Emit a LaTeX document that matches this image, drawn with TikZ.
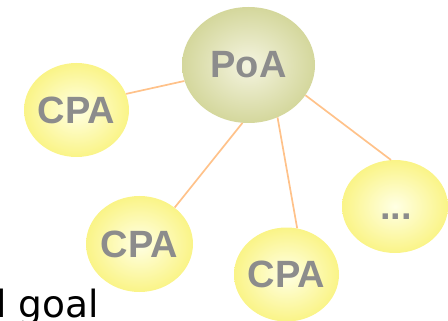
\documentclass[tikz,border=0pt]{standalone}
\usepackage{fontspec}
\setmainfont{Liberation Sans}
\newfontfamily\bodyfont{DejaVu Sans}
\usetikzlibrary{shapes.geometric}
\definecolor{cpaout}{RGB}{250,244,135}
\definecolor{cpain}{RGB}{255,255,228}
\definecolor{poaout}{RGB}{212,215,156}
\definecolor{poain}{RGB}{244,244,224}
\definecolor{linkcol}{RGB}{255,194,138}
\definecolor{labgray}{RGB}{140,140,140}
\tikzset{
  bubble/.style={ellipse, inner sep=-8pt, font=\fontsize{38}{38}\selectfont\bfseries,
    text=labgray},
  cpabubble/.style={bubble, inner color=cpain, outer color=cpaout,
    minimum width=105pt, minimum height=94pt},
  poabubble/.style={bubble, inner color=poain, outer color=poaout,
    minimum width=133pt, minimum height=116pt},
  link/.style={draw=linkcol, line width=1.7pt},
}
\begin{document}
\begin{tikzpicture}[x=1pt,y=-1pt]
\useasboundingbox (0,0) rectangle (448,321);
\node[poabubble] (poa) at (248.5,65) {PoA};
\node[cpabubble] (cpa1) at (76.5,110) {CPA};
\node[cpabubble, minimum width=107pt, minimum height=96pt] (cpa2) at (139.5,244) {CPA};
\node[cpabubble] (cpa3) at (286.5,274.5) {CPA};
\node[cpabubble, minimum width=106pt, minimum height=93pt] (more) at (395,206.5) {\vphantom{CPA}\kern2pt...};
\draw[link] (poa.194) -- (cpa1.18);
\draw[link] (poa.264) -- (cpa2.46);
\draw[link] (poa.299) -- (cpa3.77);
\draw[link] (poa.332) -- (more.95);
\node[anchor=base west, inner sep=0, font=\bodyfont\fontsize{37.5}{37.5}\selectfont] (goal) at (-4,317) {l goal};
\end{tikzpicture}
\end{document}
